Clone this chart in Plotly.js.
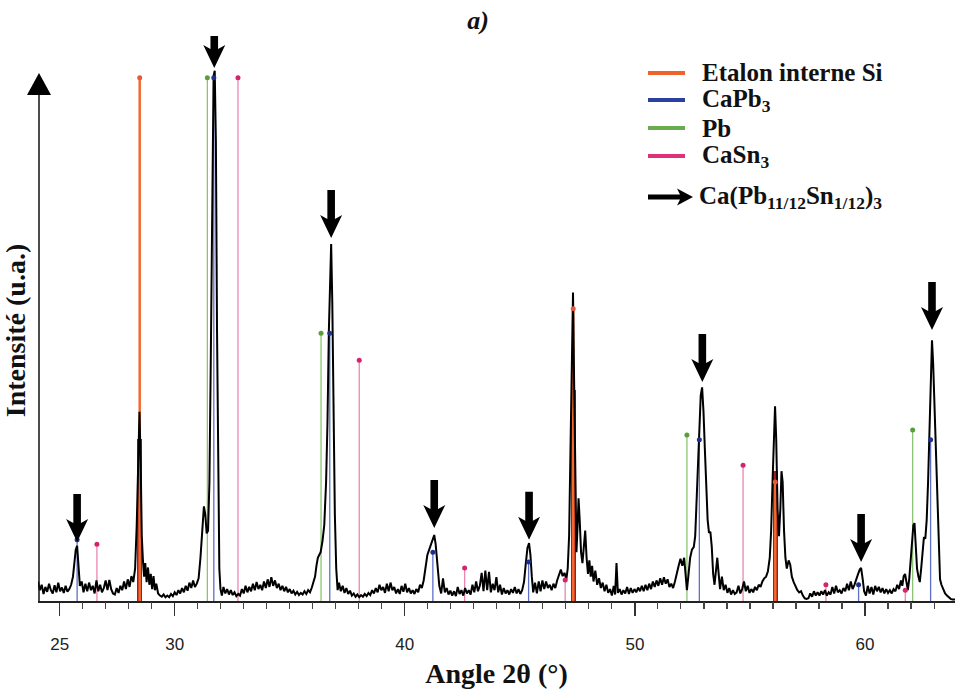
<!DOCTYPE html>
<html><head><meta charset="utf-8">
<script src="https://cdn.plot.ly/plotly-3.0.1.min.js"></script>
<style>html,body{margin:0;padding:0;background:#fff}#chart{width:955px;height:696px}</style>
</head><body><div id="chart"></div>
<script>
// ---- XRD pattern (2θ in degrees, intensity in arbitrary units) ----
const theta = [
24.06,24.14,24.22,24.30,24.38,24.46,24.54,24.62,24.70,24.78,24.86,24.94,25.02,25.10,25.18,25.26,25.34,25.42,25.50,25.58,
25.64,25.70,25.76,25.82,25.88,25.96,26.04,26.12,26.20,26.28,26.36,26.44,26.52,26.60,26.68,26.76,26.84,26.92,27.00,27.08,
27.16,27.24,27.32,27.40,27.48,27.56,27.64,27.72,27.80,27.88,27.96,28.04,28.12,28.20,28.28,28.35,28.41,28.47,28.52,28.57,
28.62,28.67,28.72,28.78,28.84,28.90,28.96,29.02,29.08,29.14,29.20,29.28,29.36,29.44,29.52,29.60,29.68,29.76,29.84,29.92,
30.00,30.08,30.16,30.24,30.32,30.40,30.48,30.56,30.64,30.72,30.80,30.88,30.96,31.04,31.12,31.20,31.27,31.33,31.39,31.45,
31.51,31.57,31.63,31.69,31.74,31.79,31.84,31.89,31.94,31.99,32.05,32.12,32.20,32.28,32.36,32.44,32.52,32.60,32.68,32.76,
32.84,32.92,33.00,33.08,33.16,33.24,33.32,33.40,33.48,33.56,33.64,33.72,33.80,33.88,33.96,34.04,34.12,34.20,34.28,34.36,
34.44,34.52,34.60,34.68,34.76,34.84,34.92,35.00,35.08,35.16,35.24,35.32,35.40,35.48,35.56,35.64,35.72,35.80,35.88,35.96,
36.04,36.10,36.16,36.22,36.28,36.34,36.42,36.50,36.58,36.64,36.70,36.76,36.80,36.85,36.90,36.96,37.02,37.08,37.14,37.22,
37.30,37.38,37.46,37.54,37.62,37.70,37.78,37.86,37.94,38.02,38.10,38.18,38.26,38.34,38.42,38.50,38.58,38.66,38.74,38.82,
38.90,38.98,39.06,39.14,39.22,39.30,39.38,39.46,39.54,39.62,39.70,39.78,39.86,39.94,40.02,40.10,40.18,40.26,40.34,40.42,
40.50,40.58,40.66,40.74,40.82,40.90,40.98,41.06,41.14,41.22,41.28,41.34,41.42,41.50,41.58,41.66,41.74,41.82,41.90,41.98,
42.06,42.14,42.22,42.30,42.38,42.46,42.54,42.62,42.70,42.78,42.86,42.94,43.02,43.10,43.18,43.26,43.34,43.42,43.50,43.58,
43.66,43.74,43.82,43.90,43.98,44.06,44.14,44.22,44.30,44.38,44.46,44.54,44.62,44.70,44.78,44.86,44.94,45.02,45.10,45.18,
45.26,45.33,45.40,45.46,45.52,45.58,45.66,45.74,45.82,45.90,45.98,46.06,46.14,46.22,46.30,46.38,46.46,46.54,46.62,46.70,
46.78,46.86,46.94,47.02,47.08,47.14,47.20,47.26,47.31,47.36,47.41,47.46,47.51,47.55,47.60,47.66,47.72,47.78,47.84,47.90,
47.96,48.02,48.08,48.14,48.20,48.28,48.36,48.44,48.52,48.60,48.68,48.76,48.84,48.92,49.00,49.08,49.14,49.20,49.26,49.34,
49.42,49.50,49.58,49.66,49.74,49.82,49.90,49.98,50.06,50.14,50.22,50.30,50.38,50.46,50.54,50.62,50.70,50.78,50.86,50.94,
51.02,51.10,51.18,51.26,51.34,51.42,51.50,51.58,51.66,51.74,51.82,51.90,51.98,52.06,52.14,52.20,52.26,52.32,52.40,52.48,
52.56,52.62,52.68,52.74,52.80,52.86,52.92,52.98,53.04,53.10,53.16,53.22,53.28,53.34,53.40,53.46,53.52,53.58,53.64,53.70,
53.78,53.86,53.94,54.02,54.10,54.18,54.26,54.34,54.42,54.50,54.58,54.66,54.74,54.82,54.90,54.98,55.06,55.14,55.22,55.30,
55.38,55.46,55.54,55.62,55.70,55.78,55.86,55.92,55.98,56.04,56.09,56.14,56.20,56.26,56.32,56.37,56.42,56.48,56.54,56.60,
56.68,56.75,56.82,56.90,56.98,57.06,57.14,57.22,57.30,57.38,57.46,57.54,57.62,57.70,57.78,57.86,57.94,58.02,58.10,58.18,
58.26,58.34,58.42,58.50,58.58,58.66,58.74,58.82,58.90,58.98,59.06,59.14,59.22,59.30,59.38,59.46,59.54,59.62,59.70,59.77,
59.83,59.90,59.96,60.04,60.12,60.20,60.28,60.36,60.44,60.52,60.60,60.68,60.76,60.84,60.92,61.00,61.08,61.16,61.24,61.32,
61.40,61.48,61.56,61.62,61.68,61.74,61.80,61.86,61.92,61.98,62.04,62.10,62.15,62.20,62.26,62.32,62.38,62.44,62.50,62.56,
62.62,62.68,62.74,62.80,62.86,62.91,62.96,63.02,63.08,63.14,63.20,63.26,63.32,63.40,63.48,63.56,63.64,63.72,63.80,63.91
];
const intensity = [
3.6,2.0,3.0,1.3,2.6,1.7,3.2,2.0,1.4,2.9,1.6,3.4,1.8,2.5,1.5,2.8,1.7,2.2,3.0,4.5,
7.0,9.5,10.2,7.0,2.8,3.6,1.6,3.2,1.8,3.4,2.0,2.8,1.4,3.8,1.8,3.0,1.6,2.4,3.8,2.0,
3.9,2.2,1.4,1.2,2.4,1.5,2.8,2.0,3.6,2.2,4.0,2.6,4.6,3.5,6.0,14,28,35,26,12,
7.5,4.5,7.0,3.5,6.2,3.0,5.0,2.2,4.6,2.0,3.2,1.4,1.0,0.8,1.2,0.7,1.0,0.7,1.3,0.9,
1.6,1.1,2.0,1.4,2.4,1.6,2.8,1.9,3.4,2.4,3.8,2.6,3.2,4.2,8.0,14.0,17.5,16.0,12.5,13.0,
22,45,78,97,98,85,50,20,6,2.2,1.0,2.6,1.4,2.2,1.2,2.0,1.1,1.6,0.9,1.3,
1.0,2.2,1.4,2.8,1.6,2.6,1.8,3.2,2.0,3.5,2.2,3.0,2.0,3.6,2.4,4.0,2.6,4.4,2.8,3.8,
2.4,3.2,2.0,2.8,1.8,2.6,1.6,2.2,1.4,1.9,1.2,1.7,1.1,1.5,1.2,1.8,1.3,2.0,1.6,2.5,
3.5,4.5,6.5,8.0,8.5,9.0,11,14,22,33,50,63,66,55,35,16,6,2.0,3.4,1.8,
2.8,1.5,2.4,1.3,1.9,1.0,1.4,0.8,1.2,0.7,1.1,0.8,1.3,0.9,1.5,1.1,2.0,1.4,2.4,1.6,
3.0,2.0,2.6,1.5,3.2,1.8,3.4,2.0,2.6,1.4,2.2,1.3,2.8,1.7,3.2,1.6,2.4,1.4,2.0,1.3,
2.2,1.6,3.0,2.4,3.8,6.5,8.5,9.5,10.5,11.8,12.2,10.5,6.5,2.8,1.4,4.2,1.6,2.4,1.2,1.9,
1.0,1.8,0.9,2.6,1.3,2.0,1.0,2.4,1.4,2.0,1.2,3.0,1.6,3.6,1.8,2.8,5.2,1.8,5.6,2.0,
5.4,1.6,3.2,2.0,4.4,1.6,3.0,1.2,2.4,1.4,2.0,1.2,2.2,1.5,2.6,1.4,2.2,1.3,2.0,3.5,
7.0,9.8,10.7,8.5,4.5,1.6,3.4,1.4,3.6,1.8,3.8,2.2,3.6,2.4,3.0,2.0,3.2,2.4,3.8,5.0,
5.8,4.6,5.2,4.0,6.0,12,28,50,57,40,18,9,14,19,15,9,7,11,13,8,
5,7.5,4.5,6.5,3.6,5.6,3.0,4.2,2.4,3.4,1.8,3.0,1.5,2.2,1.0,2.8,1.2,7.0,1.5,2.2,
1.2,2.0,1.4,2.6,1.3,2.4,1.5,2.2,1.6,2.5,1.8,2.8,1.8,3.0,2.0,3.2,2.2,3.6,2.6,3.8,
2.8,4.2,3.0,4.4,3.2,4.0,2.6,3.2,2.4,3.6,4.8,6.5,7.8,6.5,8.0,5.0,2.0,4.5,8,9.5,
10,12,19,27,33,38,39.5,35,28,22,15,12.6,12.8,10,5,3,6,8,5,2.2,
4.5,2.0,3.0,1.5,2.4,1.2,2.0,1.3,1.6,2.8,1.4,2.2,3.6,1.8,2.8,1.5,2.2,1.6,2.6,2.0,
3.0,2.6,3.6,4.2,4.5,5.5,8,13,22,31,36,30,17,12,17,24,22,13,8,6,
7.5,6.7,4.5,3.5,2.6,2.0,1.6,1.8,1.0,0.5,0.4,0.5,1.4,0.8,1.8,1.0,1.6,1.0,1.8,1.2,
2.0,1.0,1.6,1.2,2.6,1.4,2.8,1.6,2.0,1.4,2.4,1.8,3.2,2.0,3.6,2.2,3.0,4.2,5.0,5.8,
6.1,4.0,1.8,1.0,2.8,1.4,2.6,1.2,2.8,1.8,2.6,1.6,2.4,1.4,2.2,1.5,2.0,1.4,2.2,1.8,
3.0,2.2,3.8,2.8,4.6,5.0,3.0,2.0,4.0,7.5,11,14,14.4,11,6,4.5,3.5,6,9,11.8,
11.5,15,22,33,44,48.2,44,36,27,16,8,4.0,3.0,2.2,1.4,1.0,0.6,0.4,0.3,0.3
];

// ---- Reference phases (stick positions and relative heights) ----
const siPos = [28.48, 47.32, 56.10];
const siHeight = [96.7, 54.0, 22.0];
const siBandHeight = [30.0, 39.0, 24.0];
const caPb3Pos = [25.76, 31.70, 36.74, 41.22, 45.38, 52.80, 59.72, 62.85];
const caPb3Height = [11.3, 96.7, 49.5, 9.0, 7.2, 29.8, 3.0, 29.8];
const pbPos = [31.42, 36.36, 52.26, 62.07];
const pbHeight = [96.7, 49.5, 30.7, 31.6];
const caSn3Pos = [26.62, 32.75, 38.02, 42.60, 46.97, 54.70, 58.30, 61.75];
const caSn3Height = [10.5, 96.7, 44.5, 6.1, 3.9, 25.1, 3.0, 2.0];

// ---- Ca(Pb11/12Sn1/12)3 peaks marked with arrows ----
const arrowTheta = [25.76, 31.72, 36.80, 41.28, 45.40, 52.93, 59.83, 62.91];
const arrowTip = [10.9, 98.5, 67.1, 13.5, 11.3, 40.5, 7.2, 50.1];

// ---- Axis ticks ----
const xTickVals = [25, 30, 40, 50, 60];
const xTickText = ['25', '30', '40', '50', '60'];
const xMinorTickVals = [24, 26, 27, 28, 29, 31, 32, 33, 34, 35, 36, 37, 38, 39, 41, 42, 43, 44, 45, 46, 47, 48, 49,
  51, 52, 53, 54, 55, 56, 57, 58, 59, 61, 62, 63];

// ---- Legend ----
const legendNames = ['Etalon interne Si', 'CaPb<sub>3</sub>', 'Pb', 'CaSn<sub>3</sub>'];
const legendColors = ['#f0622a', '#2a3f9e', '#6aab4c', '#e0307c'];
const arrowLegendName = 'Ca(Pb<sub>11/12</sub>Sn<sub>1/12</sub>)<sub>3</sub>';

function sticks(pos, h) {
  const x = [], y = [];
  pos.forEach((p, i) => { x.push(p, p, null); y.push(0, h[i], null); });
  return {x, y};
}
function stickTrace(pos, h, color, width) {
  const s = sticks(pos, h);
  return {type: 'scatter', mode: 'lines', x: s.x, y: s.y, line: {color: color, width: width}, hoverinfo: 'skip'};
}
function topTrace(pos, h, color) {
  return {type: 'scatter', mode: 'markers', x: pos, y: h, marker: {color: color, size: 5, symbol: 'circle'}, hoverinfo: 'skip'};
}

const traces = [
  stickTrace(siPos, siHeight, '#f26a2e', 2.5),
  {type: 'bar', x: siPos, y: siBandHeight, width: 0.22, marker: {color: '#a81c18', line: {width: 0}}, hoverinfo: 'skip'},
  stickTrace(caSn3Pos, caSn3Height, '#ea86b0', 1.3),
  stickTrace(pbPos, pbHeight, '#8cc472', 1.3),
  stickTrace(caPb3Pos, caPb3Height, '#5c70c8', 1.3),
  {type: 'scatter', mode: 'lines', x: theta, y: intensity, line: {color: '#000', width: 2}, hoverinfo: 'skip'},
  topTrace(siPos, siHeight, '#e8583a'),
  topTrace(caSn3Pos, caSn3Height, '#d4246e'),
  topTrace(pbPos, pbHeight, '#5a9e3c'),
  topTrace(caPb3Pos, caPb3Height, '#1e2f8c'),
  // carrier for the minor-tick axis
  {type: 'scatter', mode: 'markers', x: [24.06], y: [0], xaxis: 'x2', marker: {opacity: 0}, hoverinfo: 'skip'}
];

const W = 955, H = 696, mL = 38, mR = 0, mT = 60, mB = 95;
const yMax = 100;
const pw = W - mL - mR, ph = H - mT - mB;
const px = v => (v - mL) / pw;
const py = v => (H - mB - v) / ph;

const serif = 'Liberation Serif, Times New Roman, serif';
const annotations = [];
const shapes = [];

// data arrows (pointing down, tip anchored on the peak, sizes in pixels; y in axis fraction so tall arrows are not clipped)
arrowTheta.forEach((t, i) => {
  const L = arrowTip[i] > 90 ? 32 : 48;
  shapes.push({type: 'path', xref: 'x', yref: 'paper', xsizemode: 'pixel', ysizemode: 'pixel',
    xanchor: t, yanchor: arrowTip[i] / yMax,
    path: 'M-3.8,' + L + ' L3.8,' + L + ' L3.8,19 L11,23 L0,0 L-11,23 L-3.8,19 Z',
    fillcolor: '#000', line: {width: 0}, layer: 'above'});
});
// y axis line with arrow head
shapes.push({type: 'line', xref: 'paper', yref: 'paper', x0: px(39), x1: px(39), y0: 0, y1: py(92),
  line: {color: '#111', width: 1.5}});
shapes.push({type: 'path', xref: 'paper', yref: 'paper', xsizemode: 'pixel', ysizemode: 'pixel',
  xanchor: px(39), yanchor: py(73), path: 'M0,0 L12,-22 L-12,-22 Z', fillcolor: '#000', line: {width: 0}});
// legend
const rowY = [73, 100, 128, 156];
legendNames.forEach((n, i) => {
  shapes.push({type: 'line', xref: 'paper', yref: 'paper', x0: px(648), x1: px(685), y0: py(rowY[i]), y1: py(rowY[i]),
    line: {color: legendColors[i], width: 4}});
  annotations.push({xref: 'paper', yref: 'paper', x: px(700), y: py(rowY[i]), xanchor: 'left', yanchor: 'middle',
    text: '<b>' + n + '</b>', showarrow: false, font: {family: serif, size: 25, color: '#111'}});
});
shapes.push({type: 'path', xref: 'paper', yref: 'paper', xsizemode: 'pixel', ysizemode: 'pixel',
  xanchor: px(693), yanchor: py(197), path: 'M0,0 L-16,8.5 L-13,2.6 L-45,2.6 L-45,-2.6 L-13,-2.6 L-16,-8.5 Z',
  fillcolor: '#000', line: {width: 0}});
annotations.push({xref: 'paper', yref: 'paper', x: px(697), y: py(197), xanchor: 'left', yanchor: 'middle',
  text: '<b>' + arrowLegendName + '</b>', showarrow: false, font: {family: serif, size: 25, color: '#111'}});

const layout = {
  width: W, height: H, margin: {l: mL, r: mR, t: mT, b: mB},
  paper_bgcolor: '#fff', plot_bgcolor: '#fff', showlegend: false, bargap: 0,
  title: {text: '<b><i>a)</i></b>', x: 478 / W, xanchor: 'center', y: 1 - 20 / H, yanchor: 'middle',
    font: {family: serif, size: 26, color: '#111'}},
  xaxis: {range: [24.06, 63.91], tickmode: 'array', tickvals: xTickVals, ticktext: xTickText,
    ticks: 'outside', ticklen: 13, tickwidth: 1.3, tickcolor: '#333', showline: true, linecolor: '#222', linewidth: 1.5,
    showgrid: false, zeroline: false, ticklabelstandoff: 14,
    tickfont: {family: 'Liberation Sans, Arial, sans-serif', size: 17, color: '#222'},
    title: {text: '<b>Angle 2θ (°)</b>', font: {family: serif, size: 28, color: '#111'}, standoff: 10}},
  xaxis2: {overlaying: 'x', matches: 'x', side: 'bottom', anchor: 'y', tickmode: 'array', tickvals: xMinorTickVals,
    showticklabels: false, ticks: 'outside', ticklen: 7, tickwidth: 1.1, tickcolor: '#444',
    showline: false, showgrid: false, zeroline: false},
  yaxis: {range: [0, yMax], showline: false, showticklabels: false, ticks: '', showgrid: false, zeroline: false,
    title: {text: '<b>Intensité (u.a.)</b>', font: {family: serif, size: 28, color: '#111'}, standoff: 4}},
  annotations: annotations, shapes: shapes
};

Plotly.newPlot('chart', traces, layout, {displayModeBar: false, staticPlot: true});
</script></body></html>
